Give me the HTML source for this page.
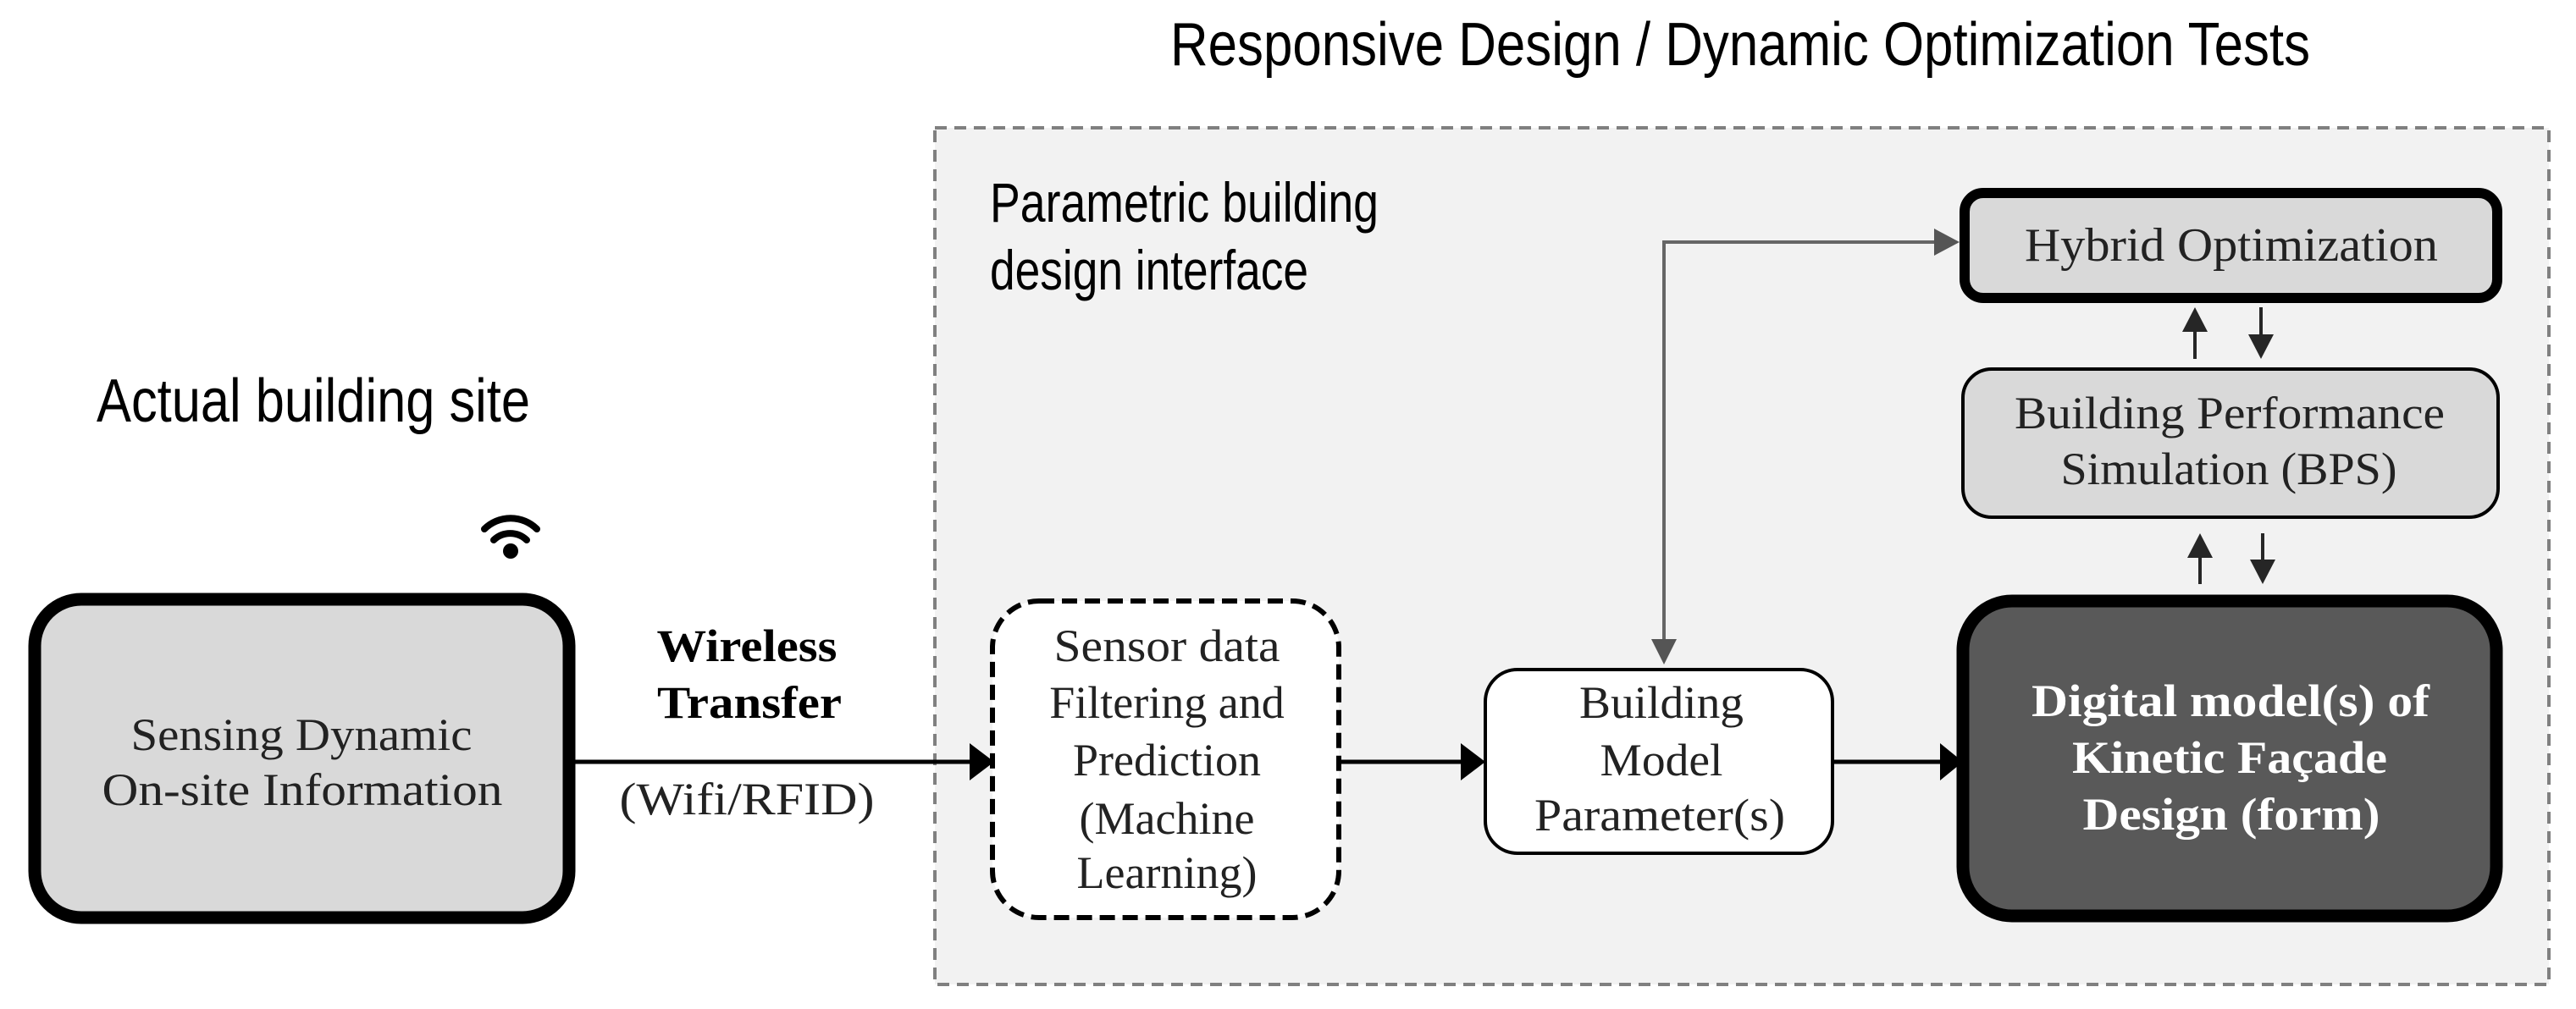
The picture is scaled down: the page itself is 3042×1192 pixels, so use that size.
<!DOCTYPE html>
<html><head><meta charset="utf-8"><style>
html,body{margin:0;padding:0;background:#fff;}
svg{display:block;}
.sans{font-family:"Liberation Sans",Arial,sans-serif;}
.serif{font-family:"Liberation Serif","Times New Roman",serif;}
</style></head><body>
<svg width="3042" height="1192" viewBox="0 0 3042 1192" xmlns="http://www.w3.org/2000/svg">
<rect width="3042" height="1192" fill="#fff"/>
<rect x="1104" y="151" width="1906" height="1012" fill="#f2f2f2" stroke="#808080" stroke-width="4" stroke-dasharray="14,9"/>

<g class="sans" fill="#000">
<text x="1382" y="77" font-size="72" textLength="1346" lengthAdjust="spacingAndGlyphs">Responsive Design / Dynamic Optimization Tests</text>
<text x="1169" y="262" font-size="66" textLength="459" lengthAdjust="spacingAndGlyphs">Parametric building</text>
<text x="1169" y="342" font-size="66" textLength="376" lengthAdjust="spacingAndGlyphs">design interface</text>
<text x="114" y="498" font-size="72" textLength="512" lengthAdjust="spacingAndGlyphs">Actual building site</text>
</g>

<g fill="none" stroke="#000" stroke-width="8" stroke-linecap="round">
<path d="M583 638 A28 28 0 0 1 622 638"/>
<path d="M572 625 A44 44 0 0 1 634 625"/>
</g>
<circle cx="603" cy="651" r="9" fill="#000"/>

<rect x="41" y="708" width="631" height="376" rx="55" fill="#d9d9d9" stroke="#000" stroke-width="15"/>
<g class="serif" font-size="54" text-anchor="middle" fill="#222">
<text x="356" y="886" textLength="403" lengthAdjust="spacingAndGlyphs">Sensing Dynamic</text>
<text x="357" y="951" textLength="473" lengthAdjust="spacingAndGlyphs">On-site Information</text>
</g>

<line x1="679" y1="900" x2="1150" y2="900" stroke="#000" stroke-width="5"/>
<polygon points="1145,878 1174,900 1145,922" fill="#000"/>
<g class="serif" font-size="54" text-anchor="middle" fill="#000">
<text x="882" y="781" font-weight="bold" textLength="213" lengthAdjust="spacingAndGlyphs">Wireless</text>
<text x="885" y="848" font-weight="bold" textLength="218" lengthAdjust="spacingAndGlyphs">Transfer</text>
<text x="882" y="962" fill="#222" textLength="301" lengthAdjust="spacingAndGlyphs">(Wifi/RFID)</text>
</g>

<rect x="1172" y="710" width="409" height="374" rx="55" fill="#fff" stroke="#000" stroke-width="6" stroke-dasharray="18,9"/>
<g class="serif" font-size="54" text-anchor="middle" fill="#222">
<text x="1378" y="781" textLength="267" lengthAdjust="spacingAndGlyphs">Sensor data</text>
<text x="1378" y="848">Filtering and</text>
<text x="1378" y="916">Prediction</text>
<text x="1378" y="985">(Machine</text>
<text x="1378" y="1049">Learning)</text>
</g>

<line x1="1584" y1="900" x2="1730" y2="900" stroke="#000" stroke-width="5"/>
<polygon points="1725,878 1754,900 1725,922" fill="#000"/>

<rect x="1754" y="791" width="410" height="217" rx="38" fill="#fff" stroke="#000" stroke-width="4"/>
<g class="serif" font-size="54" text-anchor="middle" fill="#222">
<text x="1962" y="848" textLength="194" lengthAdjust="spacingAndGlyphs">Building</text>
<text x="1962" y="916" textLength="145" lengthAdjust="spacingAndGlyphs">Model</text>
<text x="1960" y="981" textLength="296" lengthAdjust="spacingAndGlyphs">Parameter(s)</text>
</g>

<line x1="2166" y1="900" x2="2296" y2="900" stroke="#000" stroke-width="5"/>
<polygon points="2291,878 2318,900 2291,922" fill="#000"/>

<polyline points="1965,755 1965,286 2285,286" fill="none" stroke="#666" stroke-width="4"/>
<polygon points="1950,755 1980,755 1965,785" fill="#555"/>
<polygon points="2284,270 2314,286 2284,302" fill="#555"/>

<rect x="2320" y="228" width="629" height="124" rx="22" fill="#d9d9d9" stroke="#000" stroke-width="12"/>
<text class="serif" x="2635" y="308" font-size="56" text-anchor="middle" fill="#222" textLength="488" lengthAdjust="spacingAndGlyphs">Hybrid Optimization</text>

<g fill="#262626" stroke="#262626">
<line x1="2592" y1="390" x2="2592" y2="424" stroke-width="4"/>
<polygon points="2577,392 2607,392 2592,363" stroke="none"/>
<line x1="2670" y1="363" x2="2670" y2="398" stroke-width="4"/>
<polygon points="2655,395 2685,395 2670,424" stroke="none"/>
</g>

<rect x="2318" y="436" width="632" height="175" rx="34" fill="#d9d9d9" stroke="#000" stroke-width="4"/>
<g class="serif" font-size="54" text-anchor="middle" fill="#222">
<text x="2633" y="506" textLength="508" lengthAdjust="spacingAndGlyphs">Building Performance</text>
<text x="2632" y="572" textLength="397" lengthAdjust="spacingAndGlyphs">Simulation (BPS)</text>
</g>

<g fill="#262626" stroke="#262626">
<line x1="2598" y1="657" x2="2598" y2="690" stroke-width="4"/>
<polygon points="2583,659 2613,659 2598,630" stroke="none"/>
<line x1="2672" y1="630" x2="2672" y2="664" stroke-width="4"/>
<polygon points="2657,661 2687,661 2672,690" stroke="none"/>
</g>

<rect x="2318" y="710" width="630" height="372" rx="58" fill="#595959" stroke="#000" stroke-width="15"/>
<g class="serif" font-size="54" font-weight="bold" text-anchor="middle" fill="#fff">
<text x="2634" y="846" textLength="470" lengthAdjust="spacingAndGlyphs">Digital model(s) of</text>
<text x="2633" y="913" textLength="372" lengthAdjust="spacingAndGlyphs">Kinetic Façade</text>
<text x="2635" y="980" textLength="351" lengthAdjust="spacingAndGlyphs">Design (form)</text>
</g>
</svg>
</body></html>
